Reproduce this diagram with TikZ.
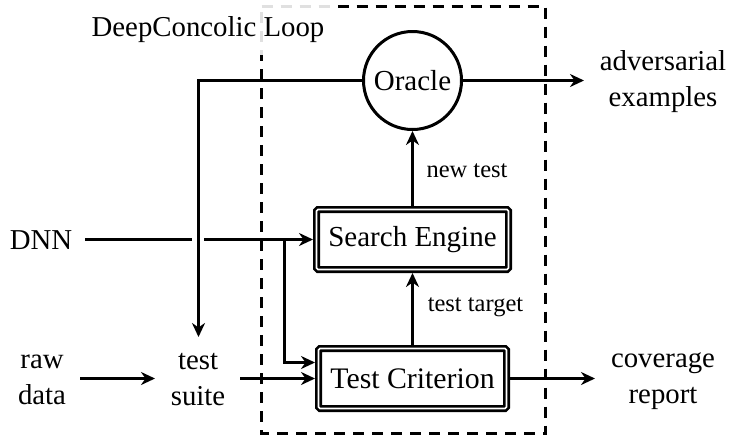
\documentclass[tikz,border=0pt]{standalone}
\usepackage{fontspec}
\setmainfont{Liberation Serif}
\usetikzlibrary{arrows.meta,positioning}
\tikzset{
  line/.style={line width=3pt,draw=black},
  arr/.style={line,-{Stealth[length=14pt,width=13pt,inset=4.5pt]}},
  dbox/.style={draw,double,double distance=1.6pt,line width=2.7pt,rounded corners=1.5pt,
    minimum height=60pt,outer sep=3.5pt,inner sep=0pt,font=\fontsize{29}{30}\selectfont},
  txt/.style={inner sep=0pt,outer sep=0pt,align=center,font=\fontsize{28.8}{36}\selectfont},
  small/.style={inner sep=0pt,outer sep=0pt,font=\fontsize{24.5}{24}\selectfont},
}
\begin{document}
\begin{tikzpicture}[x=1pt,y=-1pt]
\useasboundingbox (0,0) rectangle (731,437);
\fill[white] (0,0) rectangle (731,437);
\draw[line,dash pattern=on 11pt off 8pt] (261.5,6.5) -- (545.5,6.5) -- (545.5,433.5) -- (261.5,433.5) -- cycle;
\node[txt,fill=white,fill opacity=.88,text opacity=1,minimum width=260pt,minimum height=50pt] (loop) at (208,29.5) {DeepConcolic Loop};
\node[draw,line,circle,minimum size=98pt,inner sep=0pt,outer sep=1.5pt,font=\fontsize{29}{30}\selectfont] (oracle) at (412.5,80.5) {Oracle};
\node[dbox,minimum width=192pt] (search) at (412.5,239.5) {Search Engine};
\node[dbox,minimum width=188pt,font=\fontsize{29.8}{30}\selectfont] (crit) at (412.5,378.5) {Test Criterion};
\node[txt] (adv) at (663,81.5) {adversarial\\examples};
\node[txt] (cov) at (663,381) {coverage\\report};
\node[txt] (dnn) at (41,240) {DNN};
\node[txt] (raw) at (42,380) {raw\\data};
\node[txt] (suite) at (198,380) {test\\suite};
\node[small] (newt) at (467,171) {new test};
\node[small] (targ) at (475.5,307) {test target};
\coordinate (dnnstart) at (85,239.5);
\coordinate (gapl) at (192,239.5);
\coordinate (gapr) at (204,239.5);
\coordinate (branch) at (284.5,239.5);
\coordinate (corner) at (198.5,80.5);
\coordinate (suitetop) at (198.5,337);
\coordinate (advend) at (584,80.5);
\coordinate (covend) at (595,378.5);
\coordinate (suiteout) at (240,378.5);
\coordinate (rawout) at (80,378.5);
\coordinate (rawend) at (155,378.5);
\draw[line] (dnnstart) -- (gapl);
\draw[arr] (gapr) -- (search.west);
\draw[arr] (branch) |- ([yshift=16pt]crit.west);
\draw[arr] (oracle.west) -- (corner) -- (suitetop);
\draw[arr] (oracle.east) -- (advend);
\draw[arr] (search.north) -- (oracle.south);
\draw[arr] (crit.north) -- (search.south);
\draw[arr] (suiteout) -- (crit.west);
\draw[arr] (crit.east) -- (covend);
\draw[arr] (rawout) -- (rawend);
\end{tikzpicture}
\end{document}
